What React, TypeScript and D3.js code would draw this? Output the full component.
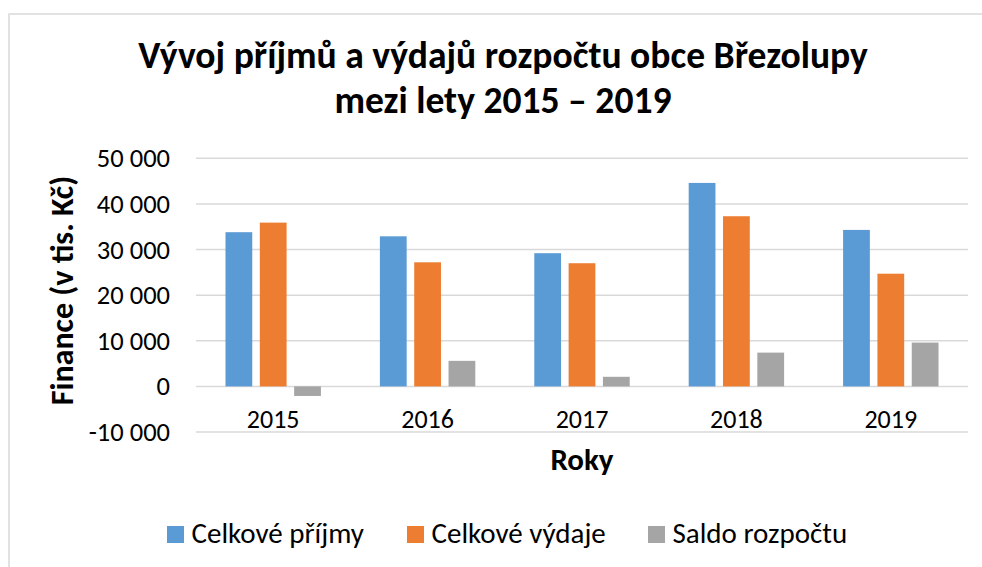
import React from 'react'
import * as d3 from 'd3'

const years = ['2015', '2016', '2017', '2018', '2019']
const prijmy = [33800, 32900, 29200, 44600, 34300]
const vydaje = [35900, 27200, 27000, 37300, 24700]
const saldo = [-2100, 5600, 2100, 7400, 9600]
const seriesNames = ['Celkové příjmy', 'Celkové výdaje', 'Saldo rozpočtu']
const seriesColors = ['#5B9BD5', '#ED7D31', '#A5A5A5']
const yTicks = [-10000, 0, 10000, 20000, 30000, 40000, 50000]

const font = 'Carlito, Calibri, Lato, sans-serif'

export default function App() {
    const width = 982
    const height = 567
    const plot = { left: 196, right: 968, top: 158.3, bottom: 432 }

    const series = [prijmy, vydaje, saldo]

    const x0 = d3.scaleBand()
        .domain(years)
        .range([plot.left, plot.right])
    const groupW = x0.bandwidth() * 0.618
    const x1 = d3.scaleBand()
        .domain(seriesNames)
        .range([(x0.bandwidth() - groupW) / 2, (x0.bandwidth() + groupW) / 2])
        .paddingInner(0.22)
    const y = d3.scaleLinear()
        .domain([-10000, 50000])
        .range([plot.bottom, plot.top])

    const fmt = (v: number) => d3.format(',')(v).replace(/,/g, ' ').replace('−', '-')

    // legend layout (item start x)
    const legendX = [167, 407, 648]

    return (
        <svg width={width} height={height} style={{ position: 'absolute', left: 0, top: 0 }}>
            <rect x={0} y={0} width={width} height={height} fill="#fff" />
            <rect x={9} y={14} width={1000} height={600} fill="#fff" stroke="#d9d9d9" strokeWidth={1.5} />

            <text x={503} y={68} textAnchor="middle" fontFamily={font} fontWeight="bold" fontSize={37.6}>
                Vývoj příjmů a výdajů rozpočtu obce Březolupy
            </text>
            <text x={503} y={113} textAnchor="middle" fontFamily={font} fontWeight="bold" fontSize={37.6}>
                mezi lety 2015 – 2019
            </text>

            {yTicks.map(t => (
                <g key={t}>
                    <line x1={plot.left} x2={plot.right} y1={y(t)} y2={y(t)} stroke="#d9d9d9" strokeWidth={1.5} />
                    <text x={170} y={y(t) + 9} textAnchor="end" fontFamily={font} fontSize={26.5} fill="#000">
                        {fmt(t)}
                    </text>
                </g>
            ))}

            {years.map((yr, i) => (
                <g key={yr} transform={`translate(${x0(yr)},0)`}>
                    {series.map((s, k) => {
                        const v = s[i]
                        return (
                            <rect key={k}
                                x={x1(seriesNames[k])}
                                y={y(Math.max(0, v))}
                                width={x1.bandwidth()}
                                height={Math.abs(y(v) - y(0))}
                                fill={seriesColors[k]} />
                        )
                    })}
                    <text x={x0.bandwidth() / 2} y={428} textAnchor="middle" fontFamily={font} fontSize={26}>
                        {yr}
                    </text>
                </g>
            ))}

            <text x={582} y={470} textAnchor="middle" fontFamily={font} fontWeight="bold" fontSize={31}>
                Roky
            </text>
            <text transform={`translate(73,290.5) rotate(-90)`} textAnchor="middle" fontFamily={font} fontWeight="bold" fontSize={32}>
                Finance (v tis. Kč)
            </text>

            {seriesNames.map((n, k) => (
                <g key={n} transform={`translate(${legendX[k]},526)`}>
                    <rect x={0} y={0} width={17} height={17} fill={seriesColors[k]} />
                    <text x={24.5} y={17} fontFamily={font} fontSize={29}>{n}</text>
                </g>
            ))}
        </svg>
    )
}
